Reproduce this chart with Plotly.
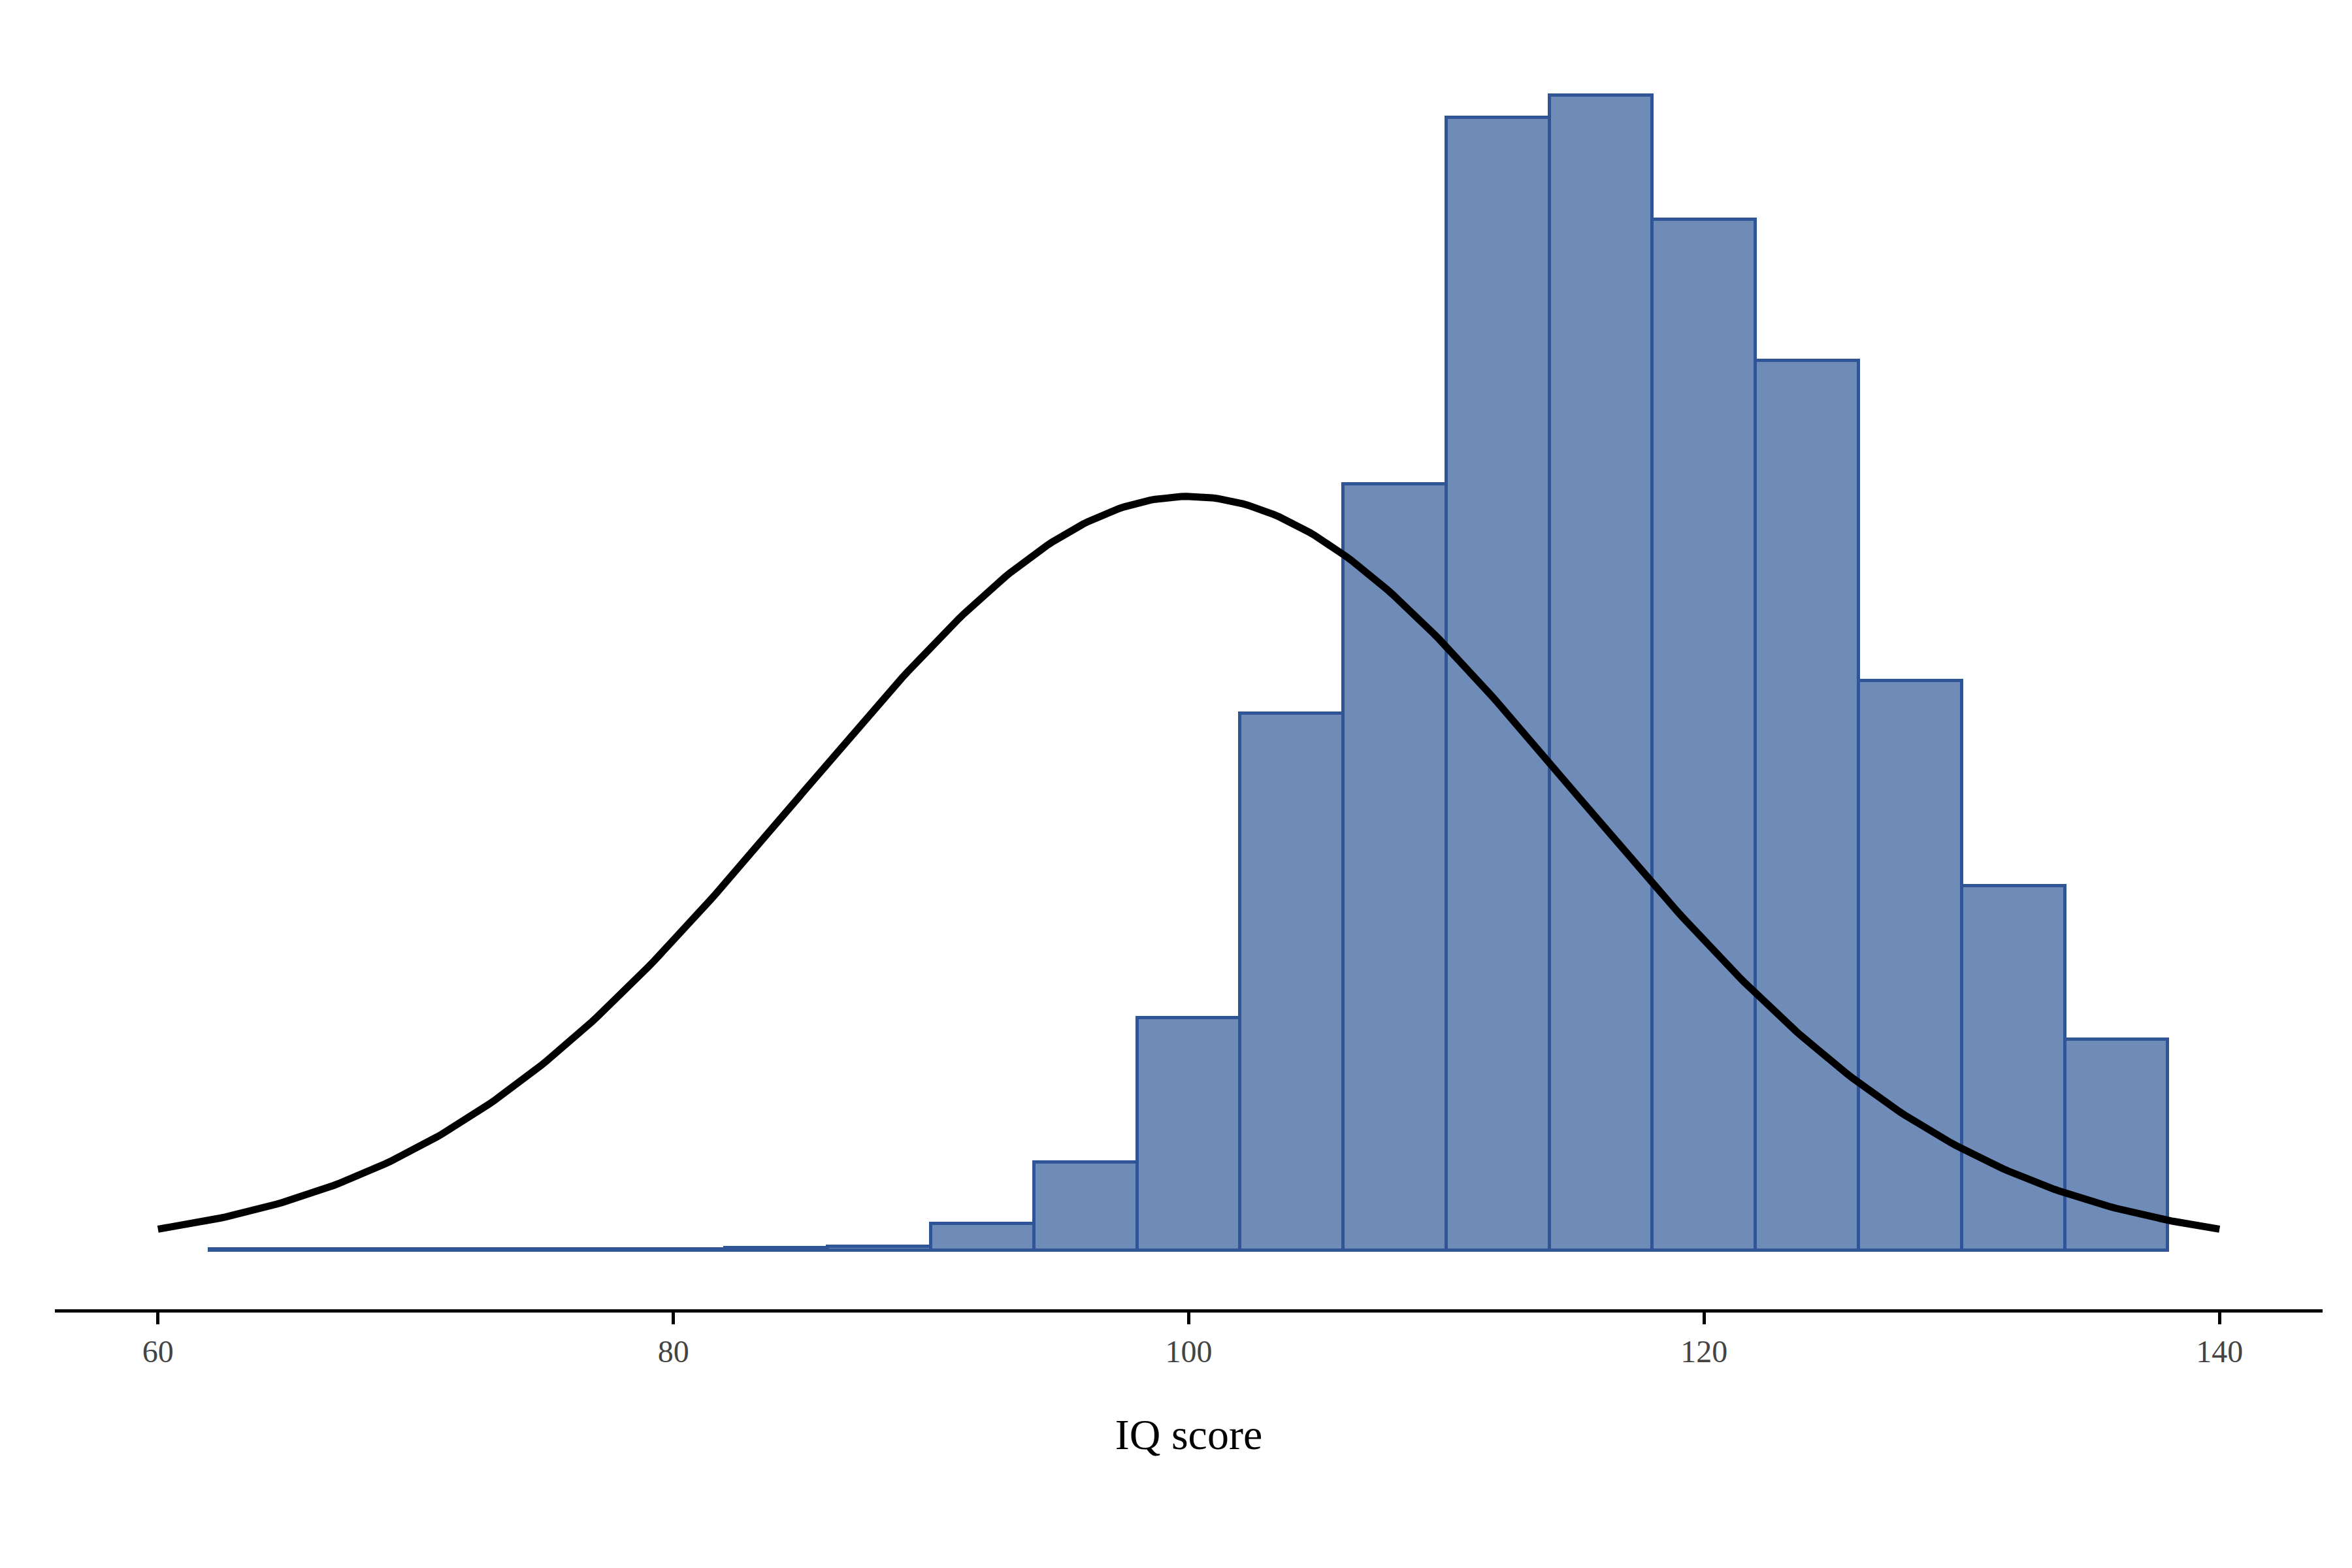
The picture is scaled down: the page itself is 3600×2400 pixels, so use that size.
import numpy as np
import plotly.graph_objects as go

bin_left = [62, 66, 70, 74, 78, 82, 86, 90, 94, 98, 102, 106, 110, 114, 118, 122, 126, 130, 134]
bin_px = [1, 1, 1, 1, 1, 2, 3, 18, 59, 155, 358, 511, 755, 770, 687, 593, 380, 243, 141]
density = [p / 18900 for p in bin_px]
bin_width = 4
mu, sigma = 100, 15

xs = np.linspace(60, 140, 400)
ys = np.exp(-(xs - mu) ** 2 / (2 * sigma ** 2)) / (sigma * np.sqrt(2 * np.pi))

fig = go.Figure()
fig.add_trace(go.Bar(x=[b + bin_width / 2 for b in bin_left], y=density, width=bin_width,
                     marker=dict(color="#6f8bb8", line=dict(color="#2f5597", width=5))))
fig.add_trace(go.Scatter(x=xs, y=ys, mode="lines", line=dict(color="black", width=11)))

fig.update_layout(
    width=3600, height=2400, showlegend=False, plot_bgcolor="white", paper_bgcolor="white",
    margin=dict(l=76, r=53, t=62, b=404), bargap=0,
    font=dict(family="Liberation Serif", color="black"),
    xaxis=dict(range=[56, 144], tickvals=[60, 80, 100, 120, 140], showline=True, linecolor="black",
               linewidth=5, ticks="outside", ticklen=18, tickwidth=5, tickcolor="black",
               showgrid=False, zeroline=False, tickfont=dict(size=48, color="#444"),
               title=dict(text="IQ score", font=dict(size=66), standoff=80)),
    yaxis=dict(range=[-39 / 18900, 803 / 18900], visible=False, showgrid=False, zeroline=False),
)
fig.write_html("out.html")
